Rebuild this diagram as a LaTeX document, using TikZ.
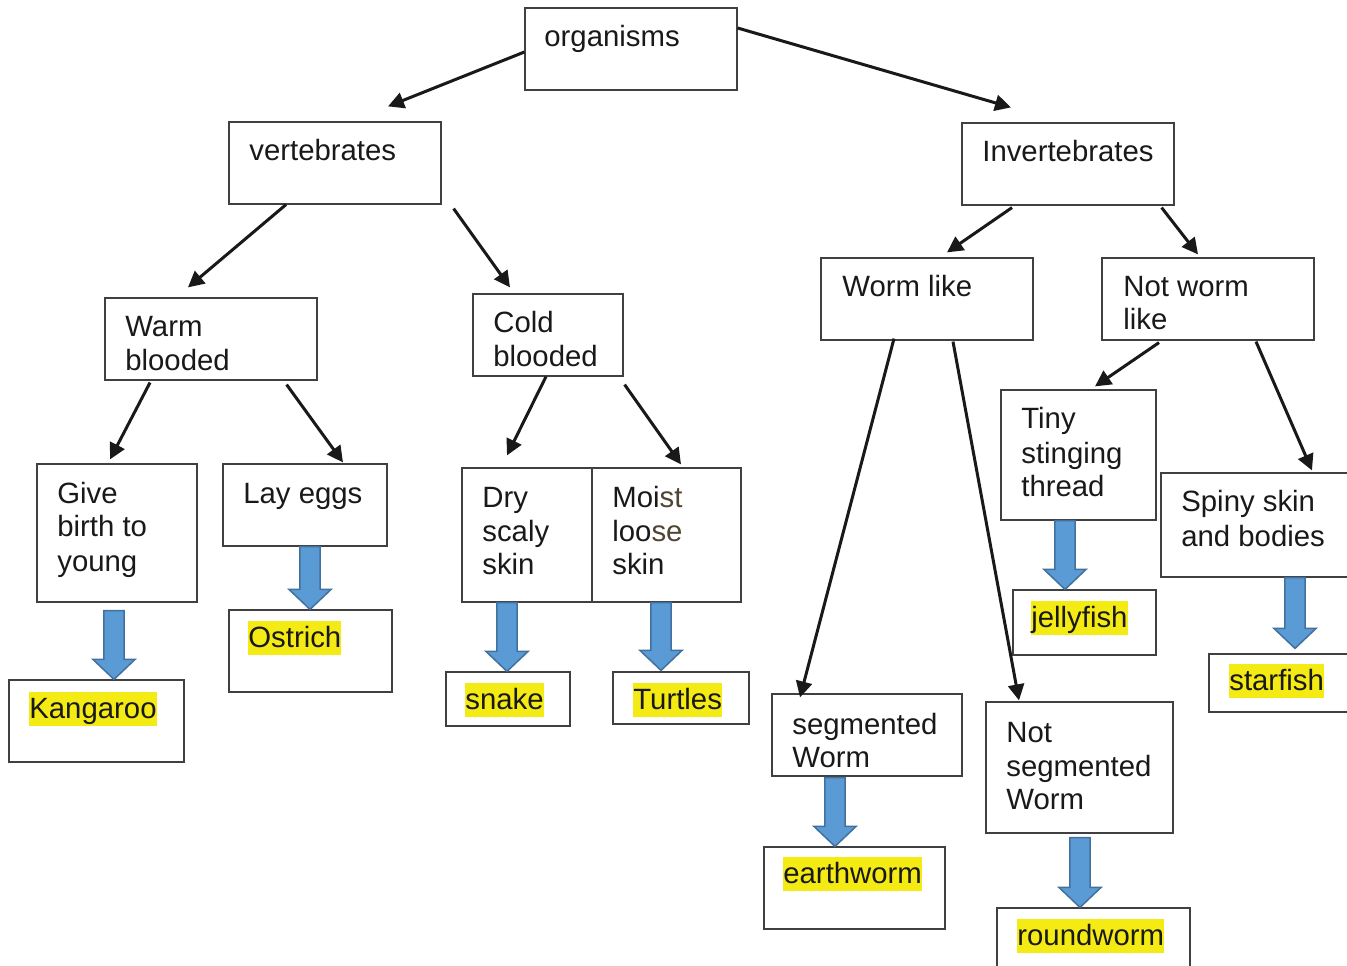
\documentclass[tikz,border=0pt]{standalone}
\usepackage{fontspec}
\setmainfont{Liberation Sans}
\usetikzlibrary{calc,fit,arrows.meta}
\definecolor{boxline}{RGB}{64,64,64}
\definecolor{hl}{RGB}{245,235,20}
\definecolor{blkfill}{RGB}{91,155,213}
\definecolor{blkline}{RGB}{65,113,156}
\definecolor{brn}{RGB}{80,68,52}
\tikzset{
  box/.style={draw=boxline, line width=0.024cm, inner sep=0pt, rectangle},
  txt/.style={inner sep=0pt, anchor=base west, font=\fontsize{16.7pt}{20pt}\selectfont, text=black!90},
  hltxt/.style={txt, fill=hl, text height=0.52cm, text depth=0.16cm},
  conn/.style={line width=0.06cm, black!90, -{Triangle[length=0.32cm,width=0.32cm]}},
  blk/.style={fill=blkfill, draw=blkline, line width=0.03cm, line join=miter}
}
\newcommand\blk[2]{\draw[blk] let \p1=(#1), \p2=(#2) in
  (\x1-5.7pt,\y1) -- (\x1+5.7pt,\y1) -- (\x1+5.7pt,\y2+11.4pt) -- (\x1+12pt,\y2+11.4pt)
  -- (\x1,\y2) -- (\x1-12pt,\y2+11.4pt) -- (\x1-5.7pt,\y2+11.4pt) -- cycle;}
\begin{document}
\begin{tikzpicture}[x=0.02cm,y=-0.02cm]
\clip (0,0) rectangle (1347,966);
\fill[white] (0,0) rectangle (1347,966);
% boxes
\node[box, fit={(525,8) (737,90)}] (org) {};
\node[box, fit={(229,122) (441,204)}] (vert) {};
\node[box, fit={(962,123) (1174,205)}] (inv) {};
\node[box, fit={(105,298) (317,380)}] (warm) {};
\node[box, fit={(473,294) (623,376)}] (cold) {};
\node[box, fit={(821,258) (1033,340)}] (worm) {};
\node[box, fit={(1102,258) (1314,340)}] (notworm) {};
\node[box, fit={(37,464) (197,602)}] (give) {};
\node[box, fit={(223,464) (387,546)}] (lay) {};
\node[box, fit={(462,468) (592,602)}] (dry) {};
\node[box, fit={(592,468) (741,602)}] (moist) {};
\node[box, fit={(1001,390) (1156,520)}] (tiny) {};
\node[box, fit={(1161,473) (1352,577)}] (spiny) {};
\node[box, fit={(9,680) (184,762)}] (kang) {};
\node[box, fit={(229,610) (392,692)}] (ost) {};
\node[box, fit={(446,672) (570,726)}] (snake) {};
\node[box, fit={(613,672) (749,724)}] (turt) {};
\node[box, fit={(1013,590) (1156,655)}] (jelly) {};
\node[box, fit={(1209,654) (1352,712)}] (star) {};
\node[box, fit={(772,694) (962,776)}] (seg) {};
\node[box, fit={(986,702) (1173,833)}] (notseg) {};
\node[box, fit={(764,847) (945,929)}] (earth) {};
\node[box, fit={(997,908) (1190,975)}] (round) {};
% texts
\node[txt] (org-t) at (544,47) {organisms};
\node[txt] (vert-t) at (249,161) {vertebrates};
\node[txt] (inv-t) at (982,162) {Invertebrates};
\node[txt] (warm-t1) at (125,337) {Warm};
\node[txt] (warm-t2) at (125,371) {blooded};
\node[txt] (cold-t1) at (493,333) {Cold};
\node[txt] (cold-t2) at (493,367) {blooded};
\node[txt] (worm-t) at (842,297) {Worm like};
\node[txt] (notworm-t1) at (1123,297) {Not worm};
\node[txt] (notworm-t2) at (1123,330) {like};
\node[txt] (give-t1) at (57,503) {Give};
\node[txt] (give-t2) at (57,537) {birth to};
\node[txt] (give-t3) at (57,571) {young};
\node[txt] (lay-t) at (243,503) {Lay eggs};
\node[txt] (dry-t1) at (482,507) {Dry};
\node[txt] (dry-t2) at (482,541) {scaly};
\node[txt] (dry-t3) at (482,575) {skin};
\node[txt] (moist-t1) at (612,507) {Moi\textcolor{brn}{st}};
\node[txt] (moist-t2) at (612,541) {loo\textcolor{brn}{se}};
\node[txt] (moist-t3) at (612,575) {skin};
\node[txt] (tiny-t1) at (1021,429) {Tiny};
\node[txt] (tiny-t2) at (1021,463) {stinging};
\node[txt] (tiny-t3) at (1021,497) {thread};
\node[txt] (spiny-t1) at (1181,512) {Spiny skin};
\node[txt] (spiny-t2) at (1181,546) {and bodies};
\node[txt] (seg-t1) at (792,734) {segmented};
\node[txt] (seg-t2) at (792,767) {Worm};
\node[txt] (notseg-t1) at (1006,742) {Not};
\node[txt] (notseg-t2) at (1006,776) {segmented};
\node[txt] (notseg-t3) at (1006,809) {Worm};
\node[hltxt] (kang-t) at (29,718) {Kangaroo};
\node[hltxt] (ost-t) at (248,647) {Ostrich};
\node[hltxt] (snake-t) at (465,709) {snake};
\node[hltxt] (turt-t) at (633,709) {Turtles};
\node[hltxt] (jelly-t) at (1031,627) {jellyfish};
\node[hltxt] (star-t) at (1229,690) {starfish};
\node[hltxt] (earth-t) at (783,883) {earthworm};
\node[hltxt] (round-t) at (1017,945) {roundworm};
% black connectors
\draw[conn] ($(org.west)+(0,3)$) -- ($(vert.north)+(53,-15)$);
\draw[conn] ($(org.east)+(0,-21)$) -- ($(inv.north)+(-57,-15)$);
\draw[conn] ($(vert.south)+(-49,0)$) -- ($(warm.north)+(-23,-10)$);
\draw[conn] ($(vert.south east)+(12,4)$) -- ($(cold.north)+(-38,-6)$);
\draw[conn] ($(inv.south)+(-56,2)$) -- ($(worm.north)+(20,-5)$);
\draw[conn] ($(inv.south east)+(-13,2)$) -- ($(notworm.north)+(-10,-3)$);
\draw[conn] ($(warm.south)+(-61,2)$) -- ($(give.north)+(-7,-4)$);
\draw[conn] ($(warm.south east)+(-31,4)$) -- ($(lay.north)+(38,-1)$);
\draw[conn] ($(cold.south)+(-2,0)$) -- ($(dry.north)+(-20,-12)$);
\draw[conn] ($(cold.south east)+(1,8)$) -- ($(moist.north)+(14.5,-3)$);
\draw[conn] ($(worm.south)+(-33,-2)$) -- ($(seg.north)+(-67,4)$);
\draw[conn] ($(worm.south)+(26,1)$) -- ($(notseg.north)+(-60.5,-1)$);
\draw[conn] ($(notworm.south)+(-49,2)$) -- ($(tiny.north)+(16.5,-3)$);
\draw[conn] ($(notworm.south)+(48,1)$) -- ($(spiny.north)+(55.5,-2)$);
% block arrows
\blk{$(give.south)+(-3,8)$}{$(kang.north)+(17.5,0)$}
\blk{$(lay.south)+(5,0)$}{$(ost.north)+(-0.5,0)$}
\blk{$(dry.south)+(-20,0)$}{$(snake.north)+(-1,0)$}
\blk{$(moist.south)+(-5.5,0)$}{$(turt.north)+(-20,-1)$}
\blk{$(tiny.south)+(-13.5,0)$}{$(jelly.north)+(-19.5,0)$}
\blk{$(spiny.south)+(38.5,0)$}{$(star.north)+(14.5,-5)$}
\blk{$(seg.south)+(-32,1)$}{$(earth.north)+(-19.5,0)$}
\blk{$(notseg.south)+(0.5,4)$}{$(round.north)+(-13.5,0)$}
\end{tikzpicture}
\end{document}
